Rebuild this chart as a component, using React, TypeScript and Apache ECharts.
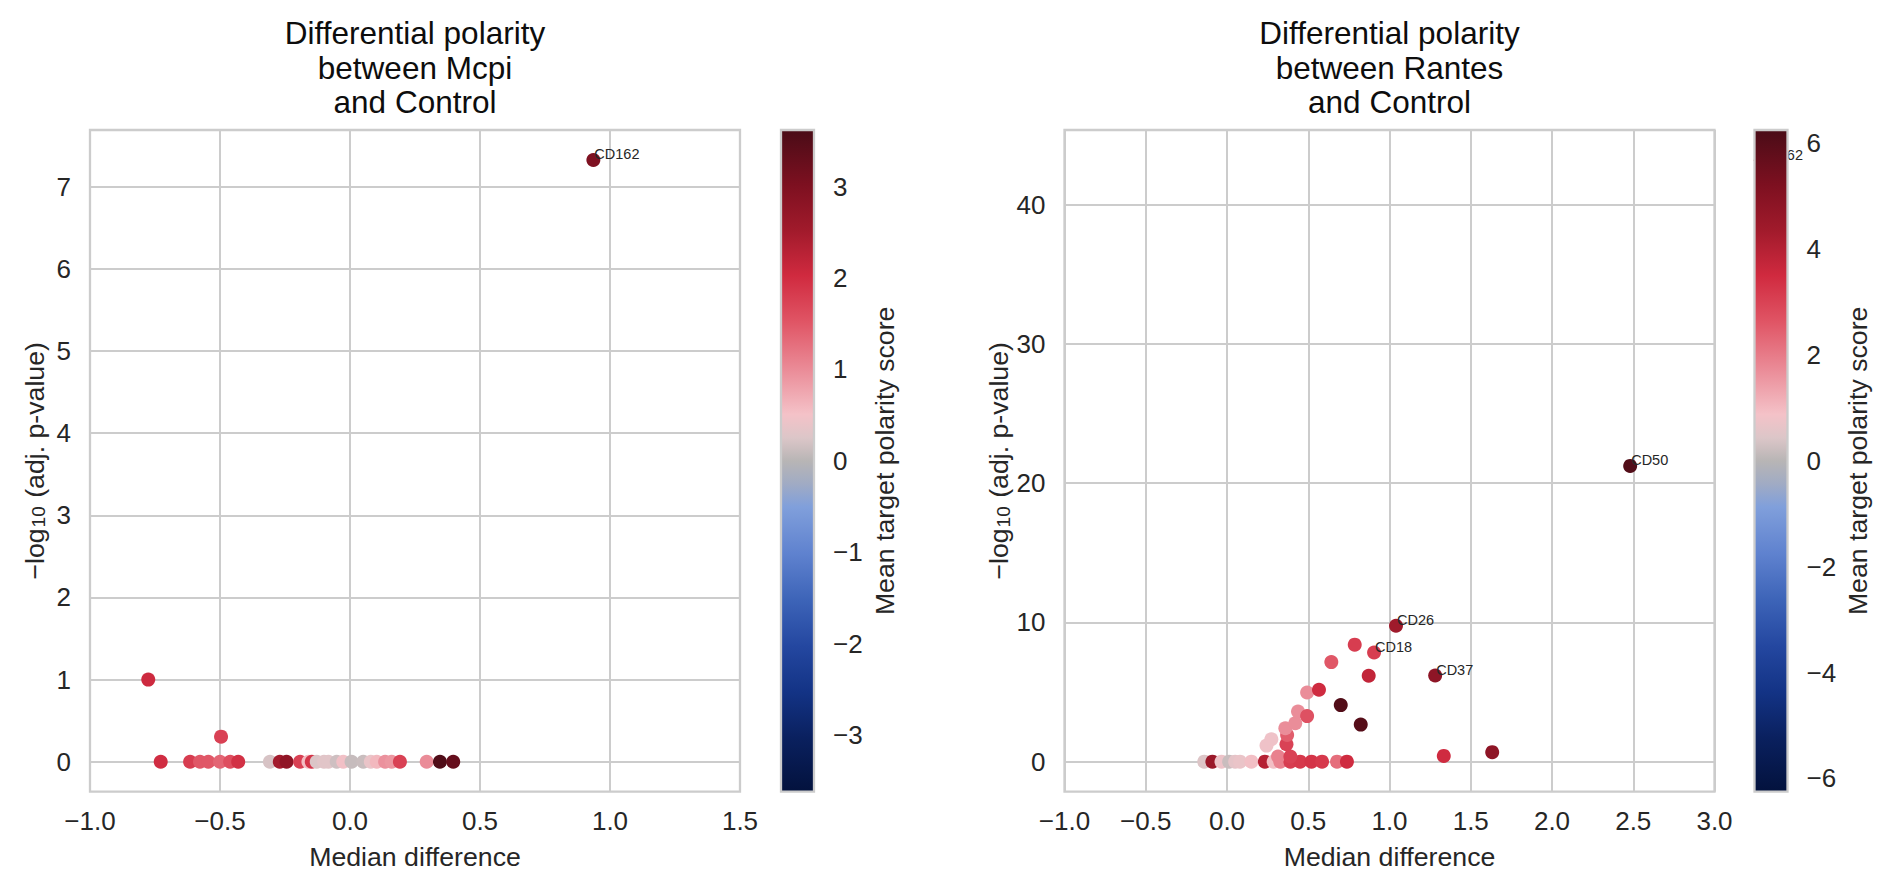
import React, { useEffect, useRef } from 'react';
import * as echarts from 'echarts';

// ---------- data: Mcpi vs Control ----------
const mcpiMedianDiff = [-0.776, -0.496, -0.728, -0.615, -0.577, -0.545, -0.5, -0.461, -0.43, -0.308, -0.27, -0.244, -0.192, -0.16, -0.147, -0.128, -0.1, -0.083, -0.051, -0.026, 0.006, 0.051, 0.08, 0.103, 0.135, 0.16, 0.192, 0.295, 0.346, 0.397, 0.936];
const mcpiNegLogP = [1.0, 0.305, 0, 0, 0, 0, 0, 0, 0, 0, 0, 0, 0, 0, 0, 0, 0, 0, 0, 0, 0, 0, 0, 0, 0, 0, 0, 0, 0, 0, 7.325];
const mcpiScore = [2.05, 1.75, 2.0, 1.8, 1.5, 1.5, 1.37, 1.6, 1.95, 0.22, 2.5, 2.75, 1.75, 0.55, 1.9, 0.25, 0.3, 0.3, 0.15, 0.5, 0.1, 0.12, 0.4, 0.6, 0.95, 0.9, 1.75, 1.0, 3.55, 3.3, 3.0];
const mcpiLabels = ['', '', '', '', '', '', '', '', '', '', '', '', '', '', '', '', '', '', '', '', '', '', '', '', '', '', '', '', '', '', 'CD162'];

// ---------- data: Rantes vs Control ----------
const rantesMedianDiff = [-0.14, -0.09, -0.034, 0.013, 0.05, 0.08, 0.15, 0.233, 0.287, 0.328, 0.39, 0.45, 0.52, 0.585, 0.677, 0.738, 0.314, 0.39, 0.243, 0.273, 0.366, 0.37, 0.359, 0.42, 0.437, 0.493, 0.493, 0.566, 0.70, 0.823, 0.642, 0.786, 0.872, 0.905, 1.04, 1.281, 1.334, 1.632, 2.481, 3.285];
const rantesNegLogP = [0, 0, 0, 0, 0, 0, 0, 0, 0, 0, 0, 0, 0, 0, 0, 0, 0.36, 0.36, 1.15, 1.61, 1.25, 1.92, 2.40, 2.76, 3.60, 3.27, 4.97, 5.16, 4.06, 2.66, 7.15, 8.40, 6.17, 7.84, 9.76, 6.19, 0.41, 0.68, 21.24, 43.2];
const rantesScore = [0.45, 4.5, 0.75, 0.2, 0.6, 0.7, 0.9, 4.0, 0.9, 1.9, 3.1, 3.2, 3.3, 3.2, 2.2, 3.5, 1.9, 3.0, 0.8, 0.8, 3.0, 2.5, 1.7, 1.7, 1.7, 2.7, 1.7, 3.5, 6.1, 6.0, 2.6, 3.1, 3.75, 3.1, 4.4, 4.8, 3.5, 4.8, 6.1, 4.5];
const rantesLabels = ['', '', '', '', '', '', '', '', '', '', '', '', '', '', '', '', '', '', '', '', '', '', '', '', '', '', '', '', '', '', '', '', '', 'CD18', 'CD26', 'CD37', '', '', 'CD50', 'CD162'];

// ---------- axes ----------
const mcpiXRange = [-1, 1.5];
const rantesXRange = [-1, 3];
const mcpiYRange = [-0.365, 7.69];
const rantesYRange = [-2.16, 45.37];
const mcpiYTicks = [0, 1, 2, 3, 4, 5, 6, 7];
const rantesYTicks = [0, 10, 20, 30, 40];
const mcpiColorLimit = 3.62;
const rantesColorLimit = 6.25;
const mcpiColorTicks = [-3, -2, -1, 0, 1, 2, 3];
const rantesColorTicks = [-6, -4, -2, 0, 2, 4, 6];

const titles = [
  'Differential polarity\nbetween Mcpi\nand Control',
  'Differential polarity\nbetween Rantes\nand Control',
];

// ---------- style ----------
const FONT = "'Liberation Sans', Arial, Helvetica, sans-serif";
const TXT = '#262626';
const GRIDC = '#cccccc';

const CMAP: [number, string][] = [
  [0.0, '#03123d'],
  [0.08, '#0a205e'],
  [0.15, '#133385'],
  [0.22, '#2447a0'],
  [0.29, '#3d64b8'],
  [0.36, '#5f82cf'],
  [0.43, '#809fdb'],
  [0.465, '#a0abc4'],
  [0.5, '#b8b5b5'],
  [0.535, '#dcc6c8'],
  [0.57, '#f4c2c8'],
  [0.64, '#ea8a96'],
  [0.71, '#e05565'],
  [0.78, '#d02a3f'],
  [0.85, '#a01a2b'],
  [0.917, '#7d1020'],
  [1.0, '#4a0c17'],
];

function hexToRgb(h: string) {
  const n = parseInt(h.slice(1), 16);
  return [(n >> 16) & 255, (n >> 8) & 255, n & 255];
}
function sampleCmap(t: number) {
  for (let i = 1; i < CMAP.length; i++) {
    if (t <= CMAP[i][0]) {
      const [t0, c0] = CMAP[i - 1];
      const [t1, c1] = CMAP[i];
      const f = (t - t0) / (t1 - t0);
      const a = hexToRgb(c0), b = hexToRgb(c1);
      const r = a.map((v, k) => Math.round(v + (b[k] - v) * f));
      return `rgb(${r[0]},${r[1]},${r[2]})`;
    }
  }
  return CMAP[CMAP.length - 1][1];
}
const sampled = Array.from({ length: 81 }, (_, i) => sampleCmap(i / 80));

const minus = (s: string) => s.replace('-', '\u2212');
const fmt1 = (v: number) => minus(v.toFixed(1));
const fmt0 = (v: number) => minus(String(Math.round(v)));

const GL = { left: 90, top: 130, width: 650, height: 661.7 };
const GR = { left: 1064.5, top: 130, width: 650, height: 661.7 };
const CBL = { left: 781, top: 130, width: 33, height: 661.7 };
const CBR = { left: 1754.5, top: 130, width: 33, height: 661.7 };

function buildData(xs: number[], ys: number[], cs: number[], labels: string[], xMax: number) {
  return xs.map((x, i) => {
    const item: any = { value: [x, ys[i], cs[i]], name: labels[i] };
    if (labels[i]) {
      // annotations of points beyond the x-limit sit slightly closer (partly hidden by the colorbar)
      item.label = x > xMax ? { show: true, position: [4, 9] } : { show: true };
    }
    return item;
  });
}

function mainXAxis(gridIndex: number, range: number[]) {
  return {
    type: 'value', gridIndex, min: range[0], max: range[1], interval: 0.5,
    axisLine: { show: false }, axisTick: { show: false },
    splitLine: { show: true, lineStyle: { color: GRIDC, width: 2 } },
    axisLabel: { fontSize: 26, color: TXT, fontFamily: FONT, margin: 16, formatter: fmt1 },
    name: 'Median difference', nameLocation: 'middle', nameGap: 52,
    nameTextStyle: { fontSize: 26.7, color: TXT, fontFamily: FONT },
  };
}

function mainYAxis(gridIndex: number, range: number[], ticks: number[]) {
  return {
    type: 'value', gridIndex, min: range[0], max: range[1],
    axisLine: { show: false },
    axisTick: { show: false, customValues: ticks },
    splitLine: { show: true, lineStyle: { color: GRIDC, width: 2 } },
    axisLabel: { fontSize: 26, color: TXT, fontFamily: FONT, margin: 19, customValues: ticks, formatter: fmt0 },
    name: '\u2212log{s|10} (adj. p-value)', nameLocation: 'middle', nameGap: 42,
    nameTextStyle: {
      fontSize: 26.7, color: TXT, fontFamily: FONT,
      rich: { s: { fontSize: 19, color: TXT, fontFamily: FONT, verticalAlign: 'bottom', padding: [0, 1, 0, 1] } },
    },
  };
}

function cbarYAxis(gridIndex: number, lim: number, ticks: number[]) {
  return {
    type: 'value', gridIndex, min: -lim, max: lim, position: 'right',
    axisLine: { show: false },
    axisTick: { show: true, length: 8, lineStyle: { color: TXT, width: 2 }, customValues: ticks },
    splitLine: { show: false },
    axisLabel: { fontSize: 26, color: TXT, fontFamily: FONT, margin: 19, customValues: ticks, formatter: fmt0 },
    name: 'Mean target polarity score', nameLocation: 'middle', nameGap: 57,
    nameTextStyle: { fontSize: 26.7, color: TXT, fontFamily: FONT },
  };
}

function colorbarRect(b: any) {
  return {
    type: 'rect', z: 100,
    shape: { x: b.left, y: b.top, width: b.width, height: b.height },
    style: {
      fill: {
        type: 'linear', x: 0, y: 1, x2: 0, y2: 0,
        colorStops: CMAP.map(([o, c]) => ({ offset: o, color: c })),
      },
      stroke: GRIDC, lineWidth: 2.3,
    },
  };
}

function titleText(x: number, text: string) {
  return {
    type: 'text', x, y: 16, z: 100,
    style: {
      text, fill: '#0d0d0d', fontSize: 31.5, fontFamily: FONT,
      align: 'center', verticalAlign: 'top', lineHeight: 34.5,
    },
  };
}

function scatterSeries(idx: number, data: any[], clip: boolean) {
  return {
    type: 'scatter', xAxisIndex: idx, yAxisIndex: idx, data, clip,
    symbol: 'circle', symbolSize: 14, silent: true,
    itemStyle: { opacity: 1 },
    label: {
      show: false, formatter: '{b}', position: [8, 9], align: 'left', verticalAlign: 'bottom',
      fontSize: 14.5, color: TXT, fontFamily: FONT,
    },
    emphasis: { disabled: true },
  };
}

export default function App() {
  const ref = useRef<HTMLDivElement>(null);
  useEffect(() => {
    document.body.style.margin = '0';
    const chart = echarts.init(ref.current as HTMLDivElement, null, { renderer: 'svg' });
    const option: any = {
      animation: false,
      backgroundColor: '#ffffff',
      textStyle: { fontFamily: FONT },
      grid: [
        { ...GL, show: true, borderColor: GRIDC, borderWidth: 2.3, backgroundColor: 'transparent' },
        { ...GR, show: true, borderColor: GRIDC, borderWidth: 2.3, backgroundColor: 'transparent' },
        { ...CBL, show: false },
        { ...CBR, show: false },
      ],
      xAxis: [
        mainXAxis(0, mcpiXRange),
        mainXAxis(1, rantesXRange),
        { type: 'value', gridIndex: 2, min: 0, max: 1, show: false },
        { type: 'value', gridIndex: 3, min: 0, max: 1, show: false },
      ],
      yAxis: [
        mainYAxis(0, mcpiYRange, mcpiYTicks),
        mainYAxis(1, rantesYRange, rantesYTicks),
        cbarYAxis(2, mcpiColorLimit, mcpiColorTicks),
        cbarYAxis(3, rantesColorLimit, rantesColorTicks),
      ],
      visualMap: [
        { type: 'continuous', show: false, seriesIndex: 0, dimension: 2, min: -mcpiColorLimit, max: mcpiColorLimit, inRange: { color: sampled } },
        { type: 'continuous', show: false, seriesIndex: 1, dimension: 2, min: -rantesColorLimit, max: rantesColorLimit, inRange: { color: sampled } },
      ],
      series: [
        scatterSeries(0, buildData(mcpiMedianDiff, mcpiNegLogP, mcpiScore, mcpiLabels, mcpiXRange[1]), true),
        scatterSeries(1, buildData(rantesMedianDiff, rantesNegLogP, rantesScore, rantesLabels, rantesXRange[1]), false),
      ],
      graphic: [
        titleText(GL.left + GL.width / 2, titles[0]),
        titleText(GR.left + GR.width / 2, titles[1]),
        colorbarRect(CBL),
        colorbarRect(CBR),
      ],
    };
    chart.setOption(option);
    return () => chart.dispose();
  }, []);
  return <div ref={ref} style={{ width: 1892, height: 892 }} />;
}
